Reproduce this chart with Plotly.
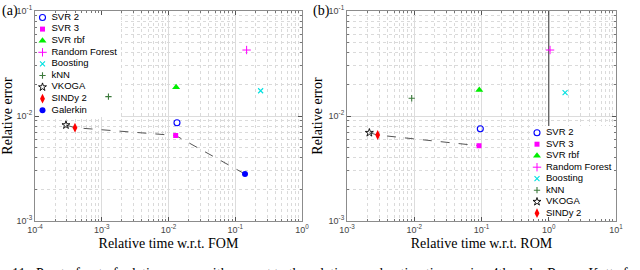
import plotly.graph_objects as go

# ---------------- data ----------------
methods = ["SVR 2", "SVR 3", "SVR rbf", "Random Forest", "Boosting",
           "kNN", "VKOGA", "SINDy 2", "Galerkin"]
fom_time = [0.0134, 0.0128, 0.0130, 0.148, 0.240, 0.00126, 0.000291, 0.000397, 0.140]
fom_err = [0.00863, 0.00652, 0.01875, 0.0425, 0.0174, 0.0153, 0.0082, 0.00774, 0.0028]

rom_methods = ["SVR 2", "SVR 3", "SVR rbf", "Random Forest", "Boosting",
               "kNN", "VKOGA", "SINDy 2"]
rom_time = [0.096, 0.0918, 0.0927, 1.045, 1.75, 0.00916, 0.00215, 0.00286]
rom_err = [0.00757, 0.00521, 0.0177, 0.0425, 0.0167, 0.01476, 0.00693, 0.00659]

fom_front = ["VKOGA", "SINDy 2", "SVR 3", "Galerkin"]
rom_front = ["VKOGA", "SINDy 2", "SVR 3"]

fom_xticks = [1e-4, 1e-3, 1e-2, 1e-1, 1]
fom_xticklabels = ["10<sup>-4</sup>", "10<sup>-3</sup>", "10<sup>-2</sup>", "10<sup>-1</sup>", "10<sup>0</sup>"]
rom_xticks = [1e-3, 1e-2, 1e-1, 1, 10]
rom_xticklabels = ["10<sup>-3</sup>", "10<sup>-2</sup>", "10<sup>-1</sup>", "10<sup>0</sup>", "10<sup>1</sup>"]
yticks = [1e-3, 1e-2, 1e-1]
yticklabels = ["10<sup>-3</sup>", "10<sup>-2</sup>", "10<sup>-1</sup>"]

rom_ref_time = 1.0  # vertical reference line (time of ROM)

caption = ("11.  Pareto front of relative errors with respect to the relative acceleration time, "
           "using 4th-order Runge-Kutta for the time integration")

# ---------------- styles ----------------
style = {
    "SVR 2": dict(symbol="circle-open", color="#0000ff", size=6, line=dict(width=1.1, color="#0000ff")),
    "SVR 3": dict(symbol="square", color="#ff00ff", size=5, line=dict(width=0)),
    "SVR rbf": dict(symbol="triangle-up", color="#00ee00", size=7, line=dict(width=0)),
    "Random Forest": dict(symbol="cross-thin-open", color="#ff00ff", size=6, line=dict(width=1, color="#ff00ff")),
    "Boosting": dict(symbol="x-thin-open", color="#00e0e0", size=5, line=dict(width=1.1, color="#00e0e0")),
    "kNN": dict(symbol="cross-thin-open", color="#3c7a3c", size=4.5, line=dict(width=1.1, color="#3c7a3c")),
    "VKOGA": dict(symbol="star-open", color="#000000", size=6, line=dict(width=0.9, color="#000000")),
    "SINDy 2": dict(symbol="diamond-tall", color="#ff0000", size=7, line=dict(width=0)),
    "Galerkin": dict(symbol="circle", color="#0000ff", size=6, line=dict(width=0)),
}

W, H = 640, 270
# plot boxes in pixels
L1, R1, L2, R2, TOP, BOT = 35, 302, 347, 616, 11, 221
XR1, XR2, YR = [-4, 0], [-3, 1], [-3, -1]

def px2data(px, lo, hi, rng):
    return 10 ** (rng[0] + (px - lo) / (hi - lo) * (rng[1] - rng[0]))

def py2data(py):
    return 10 ** (YR[1] - (py - TOP) / (BOT - TOP) * (YR[1] - YR[0]))

fig = go.Figure()

# vertical reference line in (b)
fig.add_trace(go.Scatter(x=[rom_ref_time, rom_ref_time], y=[yticks[0], yticks[-1]], mode="lines",
                         showlegend=False, hoverinfo="skip", xaxis="x2", yaxis="y2",
                         line=dict(color="#555555", width=1.2)))

# white legend backgrounds (hide grid under the legends)
def white_box(x0, x1, y0, y1, lo, hi, rng, xa, ya):
    a, b = px2data(x0, lo, hi, rng), px2data(x1, lo, hi, rng)
    c, d = py2data(y0), py2data(y1)
    fig.add_trace(go.Scatter(x=[a, b, b, a, a], y=[c, c, d, d, c], mode="lines", fill="toself",
                             fillcolor="white", line=dict(width=0, color="white"),
                             showlegend=False, hoverinfo="skip", xaxis=xa, yaxis=ya))

white_box(35.8, 121, 11.8, 117, L1, R1, XR1, "x", "y")
white_box(531, 615.2, 126, 220.2, L2, R2, XR2, "x2", "y2")

# Pareto fronts (dashed)
fx = [fom_time[methods.index(m)] for m in fom_front]
fy = [fom_err[methods.index(m)] for m in fom_front]
fig.add_trace(go.Scatter(x=fx, y=fy, mode="lines", showlegend=False, hoverinfo="skip",
                         xaxis="x", yaxis="y",
                         line=dict(color="#555555", width=1, dash="dash")))
rx = [rom_time[rom_methods.index(m)] for m in rom_front]
ry = [rom_err[rom_methods.index(m)] for m in rom_front]
fig.add_trace(go.Scatter(x=rx, y=ry, mode="lines", showlegend=False, hoverinfo="skip",
                         xaxis="x2", yaxis="y2",
                         line=dict(color="#555555", width=1, dash="dash")))

for m, t, e in zip(methods, fom_time, fom_err):
    fig.add_trace(go.Scatter(x=[t], y=[e], mode="markers", name=m, showlegend=False,
                             xaxis="x", yaxis="y", marker=style[m]))
for m, t, e in zip(rom_methods, rom_time, rom_err):
    fig.add_trace(go.Scatter(x=[t], y=[e], mode="markers", name=m, showlegend=False,
                             xaxis="x2", yaxis="y2", marker=style[m]))

# legends (drawn as a list on their own hidden axes: row index -> vertical position)
def add_legend(names, xa, ya):
    for i, m in enumerate(names):
        fig.add_trace(go.Scatter(x=[0], y=[i], mode="markers", showlegend=False, hoverinfo="skip",
                                 xaxis=xa, yaxis=ya, marker=style[m], cliponaxis=False))
    fig.add_trace(go.Scatter(x=[0.75] * len(names), y=list(range(len(names))), mode="text",
                             text=names, textposition="middle right", showlegend=False,
                             hoverinfo="skip", xaxis=xa, yaxis=ya, cliponaxis=False,
                             textfont=dict(family="Liberation Sans, Arial, sans-serif", size=9.5,
                                           color="#000000")))

add_legend(methods, "x3", "y3")
add_legend(rom_methods, "x4", "y4")

tickfont = dict(family="Liberation Sans, Arial, sans-serif", size=9, color="#444444")
titlefont = dict(family="Liberation Serif, Times New Roman, serif", size=14, color="#000000")
axis_common = dict(type="log", showline=True, linecolor="#8c8c8c", linewidth=1, mirror="allticks",
                   ticks="inside", ticklen=4, tickcolor="#555555", tickfont=tickfont, automargin=False,
                   showgrid=True, gridcolor="#dcdcdc", gridwidth=1, zeroline=False,
                   minor=dict(tickmode="linear", dtick="D1", ticks="inside", ticklen=2,
                              tickcolor="#777777", showgrid=True, gridcolor="#dadada", griddash="dot"))

yd = [1 - BOT / H, 1 - TOP / H]

def leg_axes(marker_px, first_row_px, n, spacing):
    xd = [(marker_px - 6) / W, (marker_px + 90) / W]
    top = first_row_px - spacing / 2
    bot = top + n * spacing
    ydm = [1 - bot / H, 1 - top / H]
    xa = dict(domain=xd, range=[-0.5, 7.5], visible=False, fixedrange=True, showgrid=False)
    ya = dict(domain=ydm, range=[n - 0.5, -0.5], visible=False, fixedrange=True, showgrid=False)
    return xa, ya

x3, y3 = leg_axes(42.5, 17.5, len(methods), 11.6)
x4, y4 = leg_axes(537, 132.7, len(rom_methods), 11.5)
x3["anchor"], y3["anchor"] = "y3", "x3"
x4["anchor"], y4["anchor"] = "y4", "x4"

fig.update_layout(
    width=W, height=H, margin=dict(l=0, r=0, t=0, b=0),
    plot_bgcolor="rgba(0,0,0,0)", paper_bgcolor="white",
    xaxis=dict(axis_common, domain=[L1 / W, R1 / W], range=XR1, anchor="y",
               tickvals=fom_xticks, ticktext=fom_xticklabels,
               title=dict(text="Relative time w.r.t. FOM", font=titlefont, standoff=4)),
    yaxis=dict(axis_common, domain=yd, range=YR, anchor="x",
               tickvals=yticks, ticktext=yticklabels,
               title=dict(text="Relative error", font=titlefont, standoff=2)),
    xaxis2=dict(axis_common, domain=[L2 / W, R2 / W], range=XR2, anchor="y2",
                tickvals=rom_xticks, ticktext=rom_xticklabels,
                title=dict(text="Relative time w.r.t. ROM", font=titlefont, standoff=4)),
    yaxis2=dict(axis_common, domain=yd, range=YR, anchor="x2",
                tickvals=yticks, ticktext=yticklabels,
                title=dict(text="Relative error", font=titlefont, standoff=2)),
    xaxis3=x3, yaxis3=y3, xaxis4=x4, yaxis4=y4,
    showlegend=False,
    annotations=[
        dict(text="(a)", x=0, y=1 - 1 / H, xref="paper", yref="paper", xanchor="left", yanchor="top",
             showarrow=False, font=dict(family="Liberation Serif, serif", size=14, color="#000")),
        dict(text="(b)", x=311 / W, y=1 - 1 / H, xref="paper", yref="paper", xanchor="left", yanchor="top",
             showarrow=False, font=dict(family="Liberation Serif, serif", size=14, color="#000")),
        dict(text=caption, x=10 / W, y=1 - 264 / H, xref="paper", yref="paper", xanchor="left",
             yanchor="top", showarrow=False,
             font=dict(family="Liberation Serif, serif", size=14, color="#000")),
    ],
)

fig.write_html("out.html", config={"displayModeBar": False},
               post_script="document.body.style.margin='0px';document.body.style.overflow='hidden';")
